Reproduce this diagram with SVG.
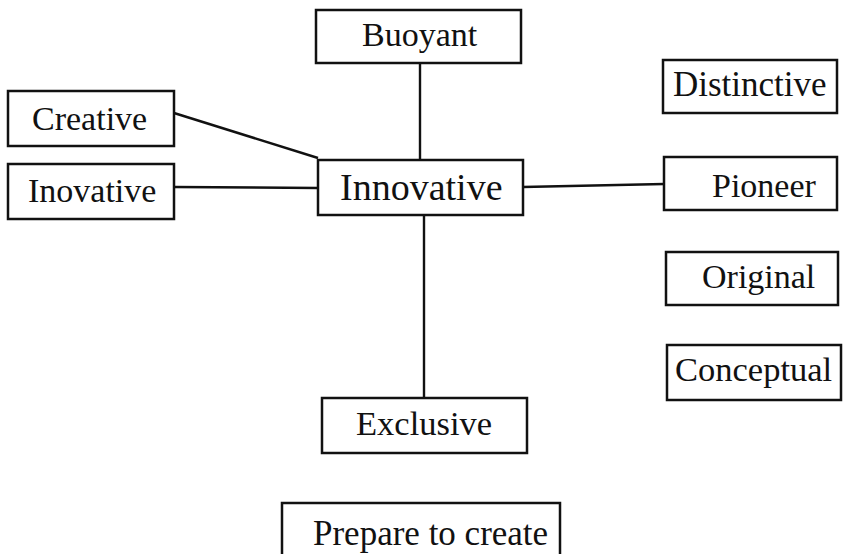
<svg xmlns="http://www.w3.org/2000/svg" width="845" height="554" viewBox="0 0 845 554">
<style>
rect{fill:#fff;stroke:#111;stroke-width:2.5}
text{font-family:"Liberation Serif","Times New Roman",serif;font-size:34px;fill:#111}
.c line{stroke:#111;stroke-width:2.4}
</style>
<rect x="0" y="0" width="845" height="554" style="stroke:none"/>
<g class="c" id="connectors">
<line x1="420" y1="63" x2="420" y2="160"/>
<line x1="174" y1="113" x2="318" y2="158"/>
<line x1="174" y1="187" x2="318" y2="188"/>
<line x1="523" y1="187" x2="664" y2="184"/>
<line x1="424" y1="215" x2="424" y2="398"/>
</g>
<g id="buoyant"><rect x="316" y="10" width="205" height="53"/><text x="362" y="46">Buoyant</text></g>
<g id="creative"><rect x="8" y="91" width="166" height="55"/><text x="32" y="130">Creative</text></g>
<g id="inovative"><rect x="8" y="164" width="166" height="55"/><text x="28" y="202">Inovative</text></g>
<g id="innovative"><rect x="318" y="160" width="205" height="55"/><text x="340" y="200" style="font-size:38px">Innovative</text></g>
<g id="distinctive"><rect x="663" y="60" width="174" height="53"/><text x="673" y="96" style="font-size:35px">Distinctive</text></g>
<g id="pioneer"><rect x="664" y="157" width="173" height="53"/><text x="712" y="197">Pioneer</text></g>
<g id="original"><rect x="666" y="252" width="172" height="53"/><text x="702" y="288">Original</text></g>
<g id="conceptual"><rect x="667" y="345" width="174" height="55"/><text x="675" y="381" style="font-size:34.5px">Conceptual</text></g>
<g id="exclusive"><rect x="322" y="398" width="205" height="55"/><text x="356" y="435" style="font-size:34.5px">Exclusive</text></g>
<g id="prepare"><rect x="282" y="503" width="278" height="70"/><text x="313" y="545" style="font-size:35px">Prepare to create</text></g>
</svg>
